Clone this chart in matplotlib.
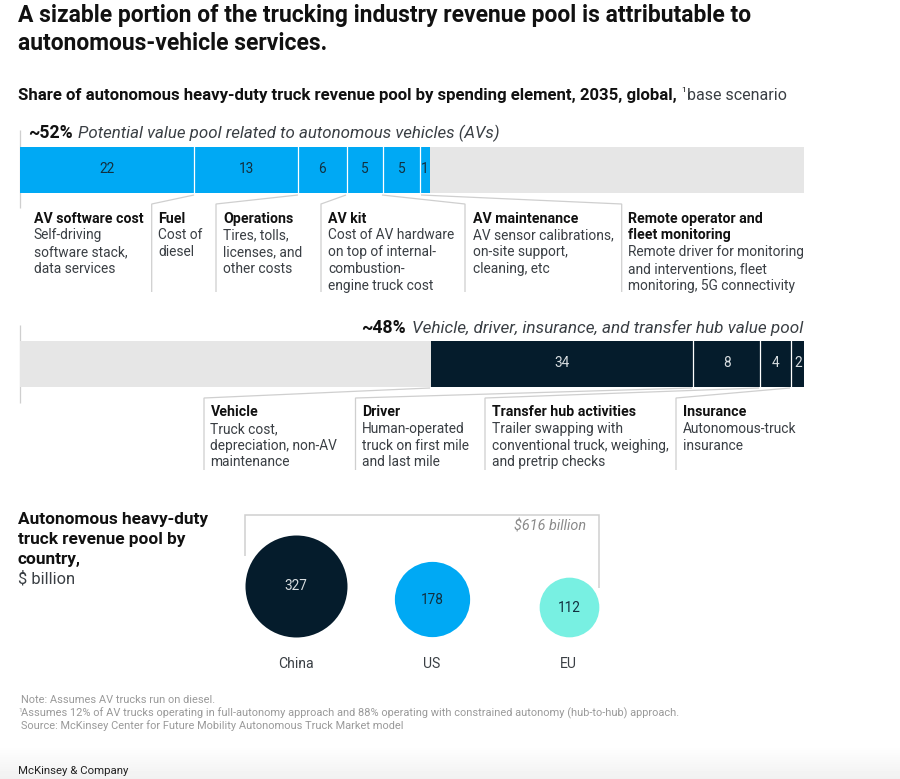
import numpy as np
import matplotlib
matplotlib.use("Agg")
import matplotlib.pyplot as plt

plt.rcParams['font.family'] = ['Roboto', 'DejaVu Sans']

W, H = 900, 779
PX = 0.72  # px -> pt at dpi 100

# ---- data ----
av_labels = ["22", "13", "6", "5", "5", "1"]
av_shares = [22.3, 13.2, 6.2, 4.6, 4.8, 1.2]
hub_labels = ["34", "8", "4", "2"]
hub_shares = [33.4, 8.5, 4.0, 1.7]
av_share_total = 52
hub_share_total = 48
countries = ["China", "US", "EU"]
country_values = [327, 178, 112]
country_total = "$616 billion"

av_items = [
    ["AV software cost"], ["Fuel"], ["Operations"], ["AV kit"], ["AV maintenance"],
    ["Remote operator and", "fleet monitoring"],
]
av_desc = [
    ["Self-driving", "software stack,", "data services"],
    ["Cost of", "diesel"],
    ["Tires, tolls,", "licenses, and", "other costs"],
    ["Cost of AV hardware", "on top of internal-", "combustion-", "engine truck cost"],
    ["AV sensor calibrations,", "on-site support,", "cleaning, etc"],
    ["Remote driver for monitoring", "and interventions, fleet", "monitoring, 5G connectivity"],
]
hub_items = [["Vehicle"], ["Driver"], ["Transfer hub activities"], ["Insurance"]]
hub_desc = [
    ["Truck cost,", "depreciation, non-AV", "maintenance"],
    ["Human-operated", "truck on first mile", "and last mile"],
    ["Trailer swapping with", "conventional truck, weighing,", "and pretrip checks"],
    ["Autonomous-truck", "insurance"],
]

# ---- style ----
BLUE, NAVY, TEAL, GREY = "#00A9F4", "#051C2C", "#78F0E2", "#E6E6E6"
INK, BODY, RULE = "#111111", "#3A3F44", "#CFCFCF"
BAR_L, BAR_R = 19.5, 804
BODY_PX = 13.8
HEAD_PX = 14.1

fig = plt.figure(figsize=(W / 100, H / 100), dpi=100, facecolor="white")

# soft grey fade at the page foot
bg = fig.add_axes([0, 0, 1, 1], zorder=0)
bg.axis("off")
fade = np.ones((H, 1))
fade[745:, 0] = np.linspace(1.0, 0.945, H - 745)
bg.imshow(fade, cmap="gray", vmin=0, vmax=1, aspect="auto", extent=(0, W, H, 0))

ov = fig.add_axes([0, 0, 1, 1], zorder=1)
ov.set_xlim(0, W)
ov.set_ylim(H, 0)
ov.axis("off")
ov.patch.set_alpha(0)


def T(x, y, s, px=BODY_PX, color=BODY, weight="normal", style="normal", ha="left"):
    return ov.text(x, y + 1, s, fontsize=px * PX, color=color, fontweight=weight,
                   fontstyle=style, ha=ha, va="center")


def rule(xs, ys, lw=0.9, color=RULE):
    ov.plot(xs, ys, color=color, lw=lw, solid_capstyle="butt", solid_joinstyle="miter")


def stacked(top, bottom, values, labels, color, txt, start):
    ax = fig.add_axes([BAR_L / W, 1 - bottom / H, (BAR_R - BAR_L) / W, (bottom - top) / H], zorder=2)
    ax.set_xlim(0, 100)
    ax.set_ylim(0, 1)
    ax.axis("off")
    ax.barh(0.5, 100, height=1, color=GREY, lw=0)
    left = start
    for i, (v, lab) in enumerate(zip(values, labels)):
        ax.barh(0.5, v, left=left, height=1, color=color, lw=0)
        if i:
            ax.axvline(left, color="white", lw=0.9)
        ax.text(left + v / 2, 0.52, lab, ha="center", va="center", color=txt, fontsize=13.6 * PX)
        left += v


# ---- titles ----
T(18, 14.5, "A sizable portion of the trucking industry revenue pool is attributable to", 22.9, INK, "bold")
T(18, 42.5, "autonomous-vehicle services.", 22.9, INK, "bold")
T(18, 94, "Share of autonomous heavy-duty truck revenue pool by spending element, 2035, global,", 16.8, INK, "bold")
T(681, 89, "1", 8.5, INK)
T(687, 94, "base scenario", 16, BODY)

# ---- upper bar ----
T(28, 132, f"~{av_share_total}%", 17.6, INK, "bold")
T(78.5, 132, "Potential value pool related to autonomous vehicles (AVs)", 16.9, BODY, style="italic")
rule([BAR_L, BAR_L], [130, 208])
stacked(147, 193, av_shares, av_labels, BLUE, "#12303F", 0)

av_x = [33.5, 158, 223, 328.5, 473, 628]
for anchor, x in [(194, 151.7), (298, 216), (346, 321), (382, 465), (421, 621.7)]:
    rule([anchor, x, x], [195, 204, 292])
for x, head, desc in zip(av_x, av_items, av_desc):
    y = 217.5
    for line in head:
        T(x, y, line, HEAD_PX, INK, "bold")
        y += 16.8
    for line in desc:
        T(x, y, line)
        y += 16.8

# ---- lower bar ----
T(361, 327, f"~{hub_share_total}%", 17.6, INK, "bold")
T(803, 327, "Vehicle, driver, insurance, and transfer hub value pool", 17.1, BODY, style="italic", ha="right")
rule([BAR_L, BAR_L], [325, 403])
stacked(341, 387, hub_shares, hub_labels, NAVY, "#D8DDE0", 52.5)

hub_x = [210.5, 362, 491.5, 683]
for anchor, x in [(430, 204), (692, 355.5), (759, 485), (790, 676)]:
    rule([anchor, x, x], [388, 398, 470])
for x, head, desc in zip(hub_x, hub_items, hub_desc):
    y = 411
    for line in head:
        T(x, y, line, HEAD_PX, INK, "bold")
        y += 16.8
    for line in desc:
        T(x, y, line)
        y += 16.8

# ---- bubbles ----
for y, s, w in [(518.5, "Autonomous heavy-duty", "bold"), (538.5, "truck revenue pool by", "bold"),
                (558.5, "country,", "bold"), (577.5, "$ billion", "normal")]:
    T(18, y, s, 17.2 if w == "bold" else 16.5, INK if w == "bold" else BODY, w)

rule([245, 245, 598.5, 598.5], [556, 514.5, 514.5, 588], lw=1.1)
T(586, 525.5, country_total, 14.4, "#8A8A8A", style="italic", ha="right")

bubble_x = [296, 432, 569]
bubble_base = 637
diam_per_sqrt = 102 / np.sqrt(327)
bubble_colors = [NAVY, BLUE, TEAL]
bubble_text = ["#D8DDE0", "#12303F", "#12303F"]
for x, c, v, col, tc in zip(bubble_x, countries, country_values, bubble_colors, bubble_text):
    d = diam_per_sqrt * np.sqrt(v)
    ov.scatter([x], [bubble_base - d / 2], s=(d * PX) ** 2, color=col, lw=0, zorder=3)
    ov.text(x, bubble_base - d / 2 + 0.5, str(v), ha="center", va="center", color=tc,
            fontsize=13.6 * PX, zorder=4)
    T(x - 0.5, 663.5, c, 14, BODY, ha="center")

# ---- footer ----
FOOT = "#9A9A9A"
T(21, 699, "Note: Assumes AV trucks run on diesel.", 11.0, FOOT)
T(18, 709, "1", 6.5, FOOT)
T(21, 712, "Assumes 12% of AV trucks operating in full-autonomy approach and 88% operating with constrained autonomy (hub-to-hub) approach.", 11.05, FOOT)
T(21, 724.5, "Source: McKinsey Center for Future Mobility Autonomous Truck Market model", 11.0, FOOT)
T(18, 770, "McKinsey & Company", 11.4, "#222222")

ov.set_xlim(0, W)
ov.set_ylim(H, 0)
fig.savefig("out.png", dpi=100)
